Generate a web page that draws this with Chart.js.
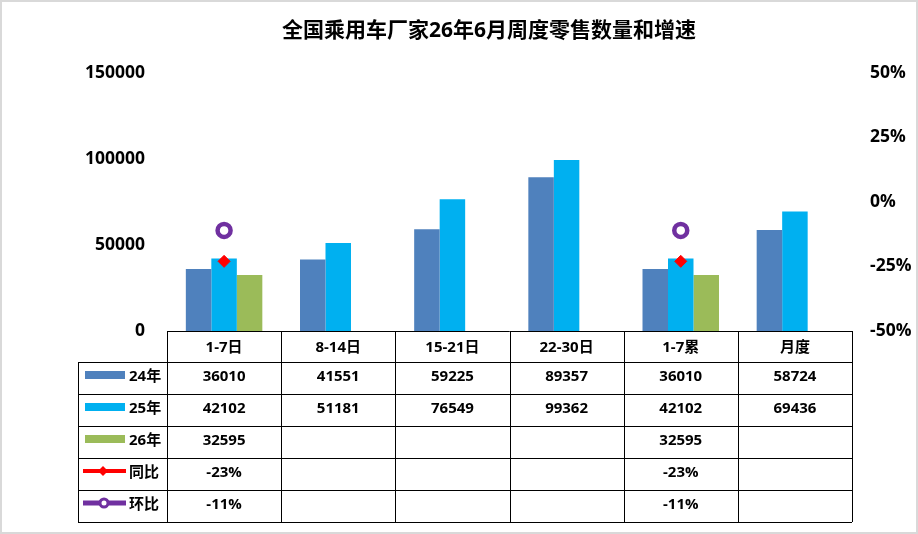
<!DOCTYPE html>
<html>
<head>
<meta charset="utf-8">
<script src="https://cdn.jsdelivr.net/npm/chart.js@4.4.1/dist/chart.umd.min.js"></script>
<style>
body { margin: 0; background: #fff; }
#wrap { width: 918px; height: 534px; position: relative; }
</style>
</head>
<body>
<div id="wrap"><canvas id="barChart" width="918" height="534"></canvas></div>
<script>
var categories = ['1-7日', '8-14日', '15-21日', '22-30日', '1-7累', '月度'];
var sales24 = [36010, 41551, 59225, 89357, 36010, 58724];
var sales25 = [42102, 51181, 76549, 99362, 42102, 69436];
var sales26 = [32595, null, null, null, 32595, null];
var yoy = [-23, null, null, null, -23, null];   // 同比 %
var mom = [-11, null, null, null, -11, null];   // 环比 %
var leftTicks = [0, 50000, 100000, 150000];
var rightTicks = [-50, -25, 0, 25, 50];
var chartTitle = '全国乘用车厂家26年6月周度零售数量和增速';

var FONT = "'Open Sans', 'Noto Sans CJK SC', sans-serif";
var C24 = '#4F81BD', C25 = '#00B0F0', C26 = '#9BBB59', CRED = '#FF0000', CPUR = '#7030A0';

var rows = [
    { label: '24年', values: sales24, key: 'bar', color: C24 },
    { label: '25年', values: sales25, key: 'bar', color: C25 },
    { label: '26年', values: sales26, key: 'bar', color: C26 },
    { label: '同比', values: yoy, key: 'diamond', color: CRED, pct: true },
    { label: '环比', values: mom, key: 'ring', color: CPUR, pct: true }
];

// title, data table and frame drawn after the chart
var tablePlugin = {
    id: 'dataTable',
    afterDraw: function(chart) {
        var ctx = chart.ctx;
        var xs = chart.scales.x;
        var area = chart.chartArea;
        var half = (xs.right - xs.left) / categories.length / 2;
        var top = area.bottom, headH = 31, rowH = 32, labelLeft = 78;
        var bodyTop = top + headH;
        var bottom = bodyTop + rows.length * rowH;
        var px = function(v) { return Math.round(v) + 0.5; };

        ctx.save();
        // title
        ctx.fillStyle = '#000';
        ctx.font = 'bold 21px ' + FONT;
        ctx.textAlign = 'center';
        ctx.textBaseline = 'middle';
        ctx.fillText(chartTitle, 489, 31);

        // grid
        ctx.strokeStyle = '#000';
        ctx.lineWidth = 1;
        ctx.beginPath();
        ctx.moveTo(xs.left, px(top)); ctx.lineTo(xs.right, px(top));
        for (var r = 0; r <= rows.length; r++) {
            var y = px(bodyTop + r * rowH);
            ctx.moveTo(labelLeft, y); ctx.lineTo(xs.right, y);
        }
        ctx.moveTo(px(labelLeft), bodyTop); ctx.lineTo(px(labelLeft), bottom);
        for (var i = 0; i <= categories.length; i++) {
            var x = px(xs.left + i * half * 2);
            ctx.moveTo(x, top); ctx.lineTo(x, bottom);
        }
        ctx.stroke();

        // header
        ctx.font = 'bold 15px ' + FONT;
        ctx.fillStyle = '#000';
        categories.forEach(function(c, i) {
            ctx.fillText(c, xs.getPixelForValue(i), top + headH / 2 + 1);
        });

        // rows
        rows.forEach(function(row, r) {
            var rt = bodyTop + r * rowH;
            var mid = rt + 15;
            // legend key
            if (row.key === 'bar') {
                ctx.fillStyle = row.color;
                ctx.fillRect(85, rt + 9, 40, 8);
            } else {
                ctx.strokeStyle = row.color;
                ctx.lineWidth = row.key === 'ring' ? 5 : 4;
                ctx.beginPath();
                ctx.moveTo(83, rt + 13); ctx.lineTo(126, rt + 13);
                ctx.stroke();
                if (row.key === 'diamond') {
                    ctx.fillStyle = row.color;
                    ctx.beginPath();
                    ctx.moveTo(103, rt + 8); ctx.lineTo(108, rt + 13);
                    ctx.lineTo(103, rt + 18); ctx.lineTo(98, rt + 13);
                    ctx.closePath(); ctx.fill();
                } else {
                    ctx.lineWidth = 3;
                    ctx.fillStyle = '#fff';
                    ctx.beginPath();
                    ctx.arc(104, rt + 13, 4, 0, Math.PI * 2);
                    ctx.fill(); ctx.stroke();
                }
            }
            ctx.fillStyle = '#000';
            ctx.textAlign = 'left';
            ctx.fillText(row.label, 129, mid);
            ctx.textAlign = 'center';
            row.values.forEach(function(v, i) {
                if (v === null) return;
                ctx.fillText(row.pct ? v + '%' : String(v), xs.getPixelForValue(i), mid);
            });
        });

        // outer frame
        ctx.strokeStyle = '#D9D9D9';
        ctx.lineWidth = 2;
        ctx.strokeRect(1, 1, 916, 532);
        ctx.restore();
    }
};

var ctx = document.getElementById('barChart').getContext('2d');
var myChart = new Chart(ctx, {
    type: 'bar',
    data: {
        labels: categories,
        datasets: [
            { label: '24年', data: sales24, backgroundColor: C24, order: 1, yAxisID: 'y' },
            { label: '25年', data: sales25, backgroundColor: C25, order: 1, yAxisID: 'y' },
            { label: '26年', data: sales26, backgroundColor: C26, order: 1, yAxisID: 'y' },
            {
                type: 'line', label: '同比', data: yoy, yAxisID: 'y1', order: 0,
                borderColor: CRED, backgroundColor: CRED, borderWidth: 3,
                pointStyle: 'rectRot', pointRadius: 6, pointBorderWidth: 1,
                pointBackgroundColor: CRED, pointBorderColor: CRED
            },
            {
                type: 'line', label: '环比', data: mom, yAxisID: 'y1', order: 0,
                borderColor: CPUR, backgroundColor: '#fff', borderWidth: 3,
                pointStyle: 'circle', pointRadius: 6.5, pointBorderWidth: 4.5,
                pointBackgroundColor: '#fff', pointBorderColor: CPUR
            }
        ]
    },
    plugins: [tablePlugin],
    options: {
        responsive: false,
        animation: false,
        categoryPercentage: 0.67,
        barPercentage: 1,
        layout: {
            padding: { top: 73, bottom: 203, left: 0, right: 0 }
        },
        plugins: {
            legend: { display: false },
            title: { display: false },
            tooltip: { enabled: false }
        },
        scales: {
            x: { display: false },
            y: {
                position: 'left',
                min: leftTicks[0],
                max: leftTicks[leftTicks.length - 1],
                grid: { display: false, drawTicks: false },
                border: { display: false },
                ticks: {
                    stepSize: leftTicks[1] - leftTicks[0],
                    padding: 22,
                    color: '#000',
                    font: { family: FONT, size: 17.5, weight: 'bold' },
                    callback: function(v) { return String(v); }
                },
                afterFit: function(scale) { scale.width = 167; }
            },
            y1: {
                position: 'right',
                min: rightTicks[0],
                max: rightTicks[rightTicks.length - 1],
                grid: { display: false, drawTicks: false },
                border: { display: false },
                ticks: {
                    stepSize: rightTicks[1] - rightTicks[0],
                    padding: 18,
                    color: '#000',
                    font: { family: FONT, size: 17.5, weight: 'bold' },
                    callback: function(v) { return v + '%'; }
                },
                afterFit: function(scale) { scale.width = 66; }
            }
        }
    }
});
</script>
</body>
</html>
